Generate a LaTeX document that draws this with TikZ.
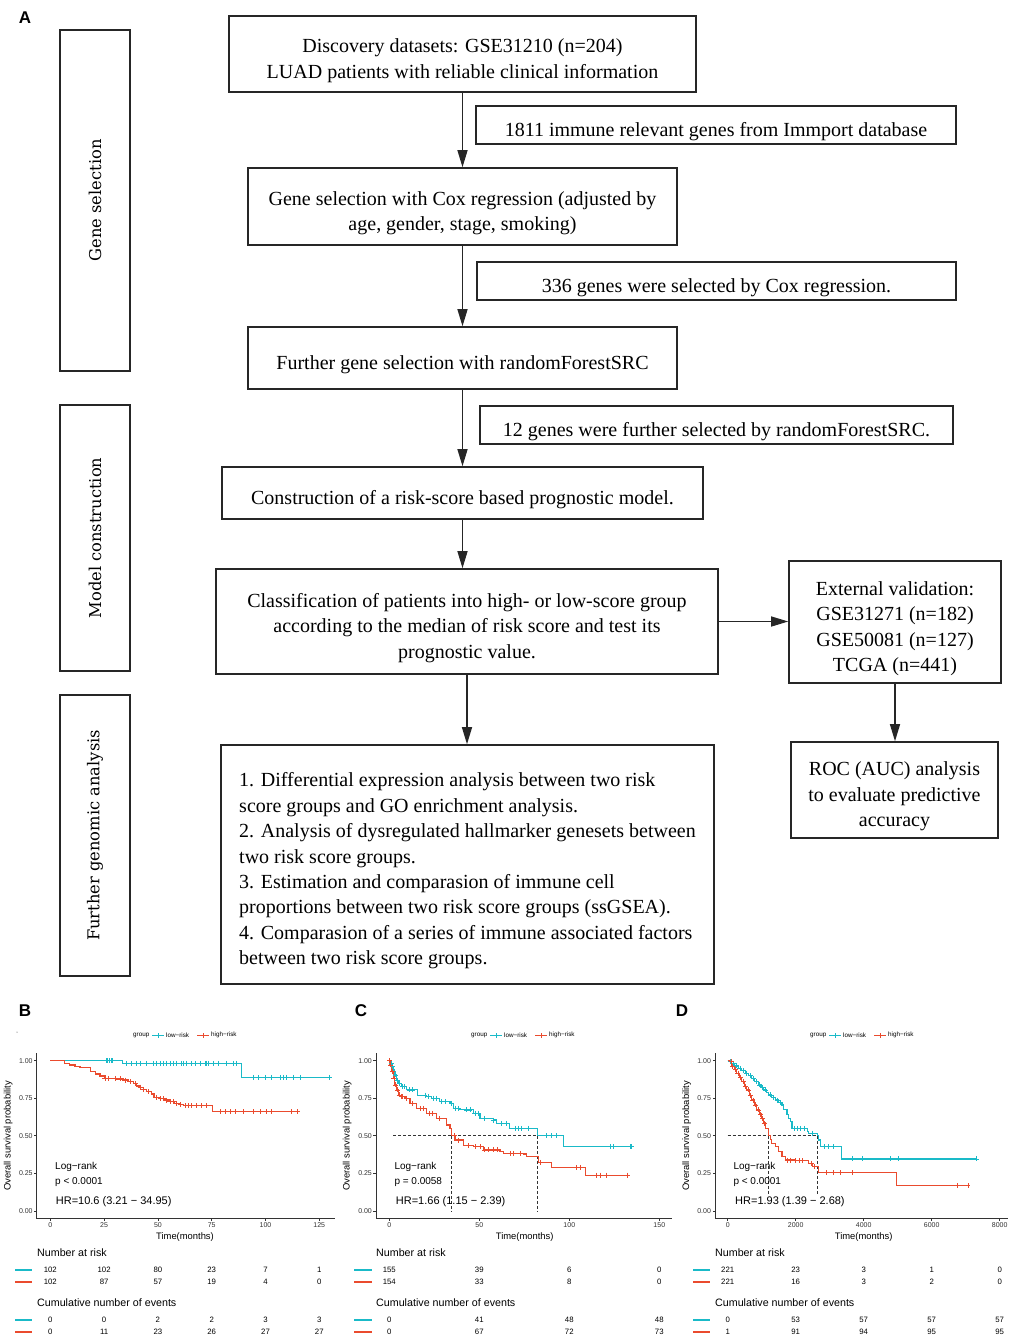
\documentclass[tikz,border=0pt]{standalone}
\usepackage{fontspec}
\newfontfamily\boxfont{Liberation Serif}
\newfontfamily\phasefont{DejaVu Serif}
\setsansfont{Liberation Sans}
\usetikzlibrary{arrows.meta,positioning}

\definecolor{kmred}{RGB}{234,75,46}
\definecolor{kmcyan}{RGB}{26,186,200}
\definecolor{kmgrey}{RGB}{51,51,51}

\newcommand{\topstrut}{\rule{0pt}{27pt}}

\tikzset{
  flowbox/.style={draw=black!85, line width=1.6pt, align=center, inner sep=0pt,
    font=\boxfont\fontsize{20}{25.4}\selectfont},
  phasebox/.style={draw=black!85, line width=1.6pt, rotate=90, minimum height=70pt,
    font=\phasefont\fontsize{16.3}{20}\selectfont},
  flowarrow/.style={draw=black!85, line width=1.3pt, -{Triangle[width=10pt,length=17pt]}},
  panellab/.style={font=\sffamily\bfseries\fontsize{17}{17}\selectfont, inner sep=0pt},
  kmaxis/.style={kmgrey, line width=0.8pt},
  kmline/.style={line width=1.1pt},
  censor/.style={line width=0.7pt, mark size=2.5pt},
  median/.style={kmgrey, line width=0.7pt, dash pattern=on 3pt off 2pt},
  ticklab/.style={font=\sffamily\fontsize{7}{8}\selectfont, text=kmgrey, inner sep=1.2pt},
  axtitle/.style={font=\sffamily\fontsize{9.4}{10}\selectfont, inner sep=0pt},
  legtxt/.style={font=\sffamily\fontsize{6.3}{7}\selectfont, inner sep=0pt, anchor=west},
  stattxt/.style={font=\sffamily\fontsize{10}{11}\selectfont, anchor=west, inner sep=0pt},
  hrtxt/.style={font=\sffamily\fontsize{11}{12}\selectfont, anchor=west, inner sep=0pt},
  tabtitle/.style={font=\sffamily\fontsize{10.7}{12}\selectfont, anchor=west, inner sep=0pt},
  tabnum/.style={font=\sffamily\fontsize{7.8}{9}\selectfont, inner sep=0pt},
  tabkey/.style={line width=2.6pt}
}

% legend row above each survival plot: #1 name, #2 x, #3 y
\newcommand{\kmlegend}[3]{%
  \node[legtxt] (#1grp) at (#2,#3) {group};
  \draw[kmcyan, line width=0.9pt] (#2+19,#3) -- (#2+31,#3);
  \draw[kmcyan, line width=0.7pt] (#2+25,#3) +(-2.5pt,0) -- +(2.5pt,0) +(0,-2.5pt) -- +(0,2.5pt);
  \node[legtxt] (#1low) at (#2+33,#3) {low−risk};
  \draw[kmred, line width=0.9pt] (#2+64,#3) -- (#2+76,#3);
  \draw[kmred, line width=0.7pt] (#2+70,#3) +(-2.5pt,0) -- +(2.5pt,0) +(0,-2.5pt) -- +(0,2.5pt);
  \node[legtxt] (#1high) at (#2+78,#3) {high−risk};
}

\begin{document}
\begin{tikzpicture}[x=1pt, y=-1pt]
\useasboundingbox (0,0) rectangle (1015,1339);
\fill[white] (0,0) rectangle (1015,1339);

%% ---------------- panel A: flow chart ----------------
\node[panellab] (labA) at (25,18) {A};

\node[phasebox, minimum width=341pt] (genesel) at (95,200.5) {Gene selection};
\node[phasebox, minimum width=266pt] (modelcon) at (95,538) {Model construction};
\node[phasebox, minimum width=281pt] (genomic) at (95,835.5) {Further genomic analysis};

\node[flowbox, minimum width=467pt, minimum height=76pt] (disc) at (462.5,54)
  {\topstrut Discovery datasets: GSE31210 (n=204)\\LUAD patients with reliable clinical information};
\node[flowbox, minimum width=480pt, minimum height=38pt] (immport) at (716,125)
  {\topstrut 1811 immune relevant genes from Immport database};
\node[flowbox, minimum width=429pt, minimum height=77pt] (coxsel) at (462.5,206.5)
  {\topstrut Gene selection with Cox regression (adjusted by\\age, gender, stage, smoking)};
\node[flowbox, minimum width=479pt, minimum height=38pt] (coxres) at (716.5,281)
  {\topstrut 336 genes were selected by Cox regression.};
\node[flowbox, minimum width=429pt, minimum height=62pt] (rfsel) at (462.5,358)
  {\topstrut Further gene selection with randomForestSRC};
\node[flowbox, minimum width=473pt, minimum height=38pt] (rfres) at (716.5,425)
  {\topstrut 12 genes were further selected by randomForestSRC.};
\node[flowbox, minimum width=481pt, minimum height=52pt] (model) at (462.5,493)
  {\topstrut Construction of a risk-score based prognostic model.};
\node[flowbox, minimum width=502pt, minimum height=105pt] (classify) at (467,621.5)
  {\topstrut Classification of patients into high- or low-score group\\according to the median of risk score and test its\\prognostic value.};
\node[flowbox, minimum width=212pt, minimum height=122pt] (extval) at (895,622)
  {\topstrut External validation:\\GSE31271 (n=182)\\GSE50081 (n=127)\\TCGA (n=441)};
\node[flowbox, minimum width=493pt, minimum height=239pt, align=left] (further) at (467.5,864.5)
  {\topstrut 1. Differential expression analysis between two risk\\
   score groups and GO enrichment analysis.\\
   2. Analysis of dysregulated hallmarker genesets between\\
   two risk score groups.\\
   3. Estimation and comparasion of immune cell\\
   proportions between two risk score groups (ssGSEA).\\
   4. Comparasion of a series of immune associated factors\\
   between two risk score groups.};
\node[flowbox, minimum width=207pt, minimum height=96pt] (roc) at (894.5,790)
  {\topstrut ROC (AUC) analysis\\to evaluate predictive\\accuracy};

\draw[flowarrow] (disc) -- (coxsel);
\draw[flowarrow] (coxsel) -- (rfsel);
\draw[flowarrow] (rfsel) -- (model);
\draw[flowarrow] (model) -- (model.south |- classify.north);
\draw[flowarrow] (classify) -- (classify.south |- further.north);
\draw[flowarrow] (classify.east) -- (classify.east -| extval.west);
\draw[flowarrow] (extval) -- (extval.south |- roc.north);

%% ---------------- panel B ----------------
\node[panellab] (labB) at (25,1011) {B};
\fill[kmgrey] (17,1032) circle (0.5pt);
\kmlegend{legB}{133}{1035}
\node[axtitle, rotate=90] (ylabB) at (8.3,1136) {Overall survival probability};
\node[axtitle] (xlabB) at (185,1237) {Time(months)};

\begin{scope}[shift={(50.3,1211)}, x=2.152pt, y=150.4pt]
  \draw[kmaxis] (-6.3,1.05) -- (-6.3,-0.048) -- (132.3,-0.048);
  \foreach \p/\lab in {0/0.00, 0.25/0.25, 0.5/0.50, 0.75/0.75, 1/1.00}
    \draw[kmaxis] (-6.3,\p) -- ++(-2.5pt,0) node[ticklab, anchor=east] {\lab};
  \foreach \tm in {0,25,...,125}
    \draw[kmaxis] (\tm,-0.048) -- ++(0,-2.5pt) node[ticklab, anchor=north] {\tm};
  \draw[kmcyan, kmline] plot[const plot] coordinates {(0,1) (33.6,0.982) (88.9,0.889) (129.6,0.889)};
  \draw[kmred, kmline] plot[const plot] coordinates {(0,1) (6.8,0.982) (9.1,0.971) (11.5,0.96)
    (13.8,0.953) (18.7,0.927) (20.8,0.911) (23.1,0.898) (25.4,0.882) (30.8,0.878) (33.9,0.871)
    (36.2,0.86) (38.6,0.849) (40.1,0.831) (41.7,0.823) (43.2,0.809) (44.8,0.794) (47.1,0.778)
    (48.2,0.756) (51,0.747) (53.3,0.738) (55.6,0.727) (57.9,0.716) (60.3,0.707) (62.1,0.70)
    (75.3,0.661) (114.9,0.661)};
  \draw[kmcyan, censor] plot[only marks, mark=+] coordinates {(25.9,1) (26.5,1) (27.4,1) (28.2,1)
    (29,1) (35.5,0.982) (37.8,0.982) (40.1,0.982) (41.7,0.982) (44.8,0.982) (47.9,0.982)
    (49.4,0.982) (51,0.982) (52.5,0.982) (54.1,0.982) (55.6,0.982) (57.2,0.982) (58.7,0.982)
    (61,0.982) (61.8,0.982) (63.4,0.982) (65.7,0.982) (67.2,0.982) (69.5,0.982) (71.9,0.982)
    (72.6,0.982) (73.4,0.982) (75.7,0.982) (78.1,0.982) (81.9,0.982) (85,0.982) (86.6,0.982)
    (94.3,0.889) (96.7,0.889) (99.8,0.889) (102.9,0.889) (106.7,0.889) (108.3,0.889)
    (109.8,0.889) (112.9,0.889) (116,0.889) (129.6,0.889)};
  \draw[kmred, censor] plot[only marks, mark=+] coordinates {(25.4,0.882) (27,0.882) (30,0.882)
    (32.4,0.878) (34.7,0.871) (37,0.86) (39.5,0.849) (41.7,0.823) (43.2,0.809) (45.5,0.794)
    (49.4,0.756) (51,0.747) (52.5,0.747) (54.1,0.738) (55.6,0.727) (57.2,0.727) (58.7,0.716)
    (60.3,0.707) (62.6,0.70) (64.1,0.70) (65.7,0.70) (68,0.70) (70.3,0.70) (72.6,0.70)
    (78.8,0.661) (81.2,0.661) (83.5,0.661) (85.8,0.661) (89.7,0.661) (94.3,0.661) (97.4,0.661)
    (100.5,0.661) (102.9,0.661) (112.1,0.661) (114.9,0.661)};
\end{scope}

\node[stattxt] (lrB) at (55,1167) {Log−rank};
\node[stattxt] (pB) at (55,1182) {p < 0.0001};
\node[hrtxt] (hrB) at (55.7,1202) {HR=10.6 (3.21 − 34.95)};

\node[tabtitle] (riskB) at (37,1253) {Number at risk};
\node[tabtitle] (eventB) at (37,1303) {Cumulative number of events};
\foreach \yy/\cc in {1270/kmcyan, 1282/kmred, 1320/kmcyan, 1332/kmred}
  \draw[\cc, tabkey] (15,\yy) -- (32,\yy);
\begin{scope}[shift={(50.3,0)}, x=2.152pt]
  \foreach \tm/\a/\b/\c/\d in {0/102/102/0/0, 25/102/87/0/11, 50/80/57/2/23,
      75/23/19/2/26, 100/7/4/3/27, 125/1/0/3/27} {
    \node[tabnum] at (\tm,1270) {\a};
    \node[tabnum] at (\tm,1282) {\b};
    \node[tabnum] at (\tm,1320) {\c};
    \node[tabnum] at (\tm,1332) {\d};
  }
\end{scope}

%% ---------------- panel C ----------------
\node[panellab] (labC) at (361,1011) {C};
\kmlegend{legC}{471}{1035}
\node[axtitle, rotate=90] (ylabC) at (347.3,1136) {Overall survival probability};
\node[axtitle] (xlabC) at (524.7,1237) {Time(months)};

\begin{scope}[shift={(389.3,1211)}, x=1.8pt, y=150.4pt]
  \draw[kmaxis] (-7.4,1.05) -- (-7.4,-0.048) -- (156.9,-0.048);
  \foreach \p/\lab in {0/0.00, 0.25/0.25, 0.5/0.50, 0.75/0.75, 1/1.00}
    \draw[kmaxis] (-7.4,\p) -- ++(-2.5pt,0) node[ticklab, anchor=east] {\lab};
  \foreach \tm in {0,50,100,150}
    \draw[kmaxis] (\tm,-0.048) -- ++(0,-2.5pt) node[ticklab, anchor=north] {\tm};
  \draw[median] (2.2,0.5) -- (82.2,0.5);
  \draw[median] (34.6,0.5) -- (34.6,0);
  \draw[median] (82.2,0.5) -- (82.2,0);
  \draw[kmcyan, kmline] plot[const plot] coordinates {(0,1) (0.6,0.98) (1.3,0.96) (2.2,0.93)
    (3.1,0.905) (4.1,0.87) (5,0.85) (6.9,0.827) (9.6,0.805) (15.6,0.77) (20.7,0.76) (23.5,0.75)
    (28.1,0.727) (33.7,0.716) (35.6,0.683) (39.3,0.672) (46.7,0.65) (50.4,0.616) (57.8,0.605)
    (59.6,0.583) (67,0.55) (82.2,0.5) (97,0.428) (134.6,0.428)};
  \draw[kmred, kmline] plot[const plot] coordinates {(0,1) (0.4,0.971) (1.3,0.927) (2.2,0.882)
    (3.1,0.838) (4.1,0.805) (5,0.772) (5.9,0.76) (8.7,0.749) (11.5,0.716) (15.2,0.683)
    (20.7,0.65) (26.3,0.616) (31.9,0.572) (33.7,0.55) (34.6,0.5) (36.5,0.472) (41.1,0.435)
    (46.7,0.428) (52.2,0.406) (61.5,0.395) (63.3,0.384) (74.4,0.379) (76.3,0.361) (82.8,0.324)
    (90,0.288) (109.1,0.239) (132.2,0.239)};
  \draw[kmcyan, censor] plot[only marks, mark=+] coordinates {(0.3,1) (1,0.98) (1.7,0.96)
    (2.6,0.93) (3.5,0.905) (4.5,0.87) (5.8,0.85) (7.5,0.827) (8.5,0.827) (11,0.805) (13,0.805)
    (19.8,0.77) (21.5,0.76) (24.4,0.75) (26.3,0.75) (29,0.727) (31,0.727) (34.5,0.716)
    (36.5,0.683) (38.3,0.683) (43,0.672) (44.8,0.672) (47.6,0.65) (49.4,0.65) (53,0.616)
    (57.8,0.605) (62.4,0.583) (65.2,0.583) (69.8,0.55) (71.7,0.55) (73.5,0.55) (77.2,0.55)
    (87.4,0.5) (90.2,0.5) (92.6,0.5) (122.6,0.428) (124.4,0.428) (133.7,0.428) (134.6,0.428)};
  \draw[kmred, censor] plot[only marks, mark=+] coordinates {(0.2,1) (0.8,0.971) (1.7,0.927)
    (2.6,0.882) (3.5,0.838) (4.5,0.805) (5.5,0.772) (6.5,0.76) (7.5,0.76) (9.5,0.749)
    (13,0.716) (17,0.683) (19,0.683) (22,0.65) (24,0.65) (28,0.616) (36,0.5) (38.5,0.472)
    (44,0.435) (48,0.428) (50.4,0.428) (53,0.406) (55,0.406) (58,0.406) (60,0.406) (67,0.384)
    (69,0.384) (72.6,0.384) (84,0.324) (104,0.288) (106,0.288) (115.2,0.239) (117,0.239)
    (120.7,0.239) (132.2,0.239)};
\end{scope}

\node[stattxt] (lrC) at (394.3,1167) {Log−rank};
\node[stattxt] (pC) at (394.3,1182) {p = 0.0058};
\node[hrtxt] (hrC) at (395.7,1202) {HR=1.66 (1.15 − 2.39)};

\node[tabtitle] (riskC) at (376,1253) {Number at risk};
\node[tabtitle] (eventC) at (376,1303) {Cumulative number of events};
\foreach \yy/\cc in {1270/kmcyan, 1282/kmred, 1320/kmcyan, 1332/kmred}
  \draw[\cc, tabkey] (354,\yy) -- (372,\yy);
\begin{scope}[shift={(389.3,0)}, x=1.8pt]
  \foreach \tm/\a/\b/\c/\d in {0/155/154/0/0, 50/39/33/41/67, 100/6/8/48/72, 150/0/0/48/73} {
    \node[tabnum] at (\tm,1270) {\a};
    \node[tabnum] at (\tm,1282) {\b};
    \node[tabnum] at (\tm,1320) {\c};
    \node[tabnum] at (\tm,1332) {\d};
  }
\end{scope}

%% ---------------- panel D ----------------
\node[panellab] (labD) at (682,1011) {D};
\kmlegend{legD}{810}{1035}
\node[axtitle, rotate=90] (ylabD) at (686.7,1136) {Overall survival probability};
\node[axtitle] (xlabD) at (863.7,1237) {Time(months)};

\begin{scope}[shift={(727.7,1211)}, x=34pt, y=150.4pt]
  \draw[kmaxis] (-0.373,1.05) -- (-0.373,-0.048) -- (8.235,-0.048);
  \foreach \p/\lab in {0/0.00, 0.25/0.25, 0.5/0.50, 0.75/0.75, 1/1.00}
    \draw[kmaxis] (-0.373,\p) -- ++(-2.5pt,0) node[ticklab, anchor=east] {\lab};
  \foreach \tm/\lab in {0/0, 2/2000, 4/4000, 6/6000, 8/8000}
    \draw[kmaxis] (\tm,-0.048) -- ++(0,-2.5pt) node[ticklab, anchor=north] {\lab};
  \draw[median] (0,0.5) -- (2.631,0.5);
  \draw[median] (1.202,0.5) -- (1.202,0.11);
  \draw[median] (2.631,0.5) -- (2.631,0.11);
  \draw[kmcyan, kmline] plot[const plot] coordinates {(0,1) (0.05,0.993) (0.118,0.982)
    (0.2,0.965) (0.315,0.949) (0.41,0.932) (0.512,0.916) (0.61,0.9) (0.709,0.882) (0.8,0.86)
    (0.906,0.838) (0.98,0.822) (1.054,0.805) (1.13,0.79) (1.202,0.772) (1.3,0.755) (1.399,0.738)
    (1.5,0.72) (1.596,0.705) (1.645,0.672) (1.744,0.639) (1.8,0.615) (1.842,0.594) (1.892,0.55)
    (2.335,0.528) (2.384,0.516) (2.631,0.5) (2.68,0.472) (2.729,0.428) (3.35,0.346) (7.31,0.346)};
  \draw[kmred, kmline] plot[const plot] coordinates {(0,1) (0.05,0.993) (0.118,0.96) (0.19,0.94)
    (0.266,0.916) (0.34,0.89) (0.414,0.86) (0.49,0.83) (0.562,0.805) (0.64,0.77) (0.709,0.738)
    (0.78,0.705) (0.857,0.672) (0.93,0.645) (1.005,0.616) (1.06,0.585) (1.123,0.55) (1.202,0.5)
    (1.25,0.475) (1.3,0.45) (1.399,0.428) (1.5,0.395) (1.596,0.361) (1.695,0.339) (1.99,0.335)
    (2.384,0.317) (2.5,0.295) (2.68,0.255) (4.966,0.168) (7.064,0.168)};
  \draw[kmcyan, censor] plot[only marks, mark=+] coordinates {(0.08,0.993) (0.16,0.982)
    (0.26,0.965) (0.36,0.949) (0.46,0.932) (0.56,0.916) (0.66,0.9) (0.75,0.882) (0.85,0.86)
    (0.94,0.838) (1.02,0.822) (1.1,0.805) (1.25,0.772) (1.35,0.755) (1.45,0.738) (1.55,0.72)
    (1.95,0.55) (2.05,0.55) (2.15,0.55) (2.25,0.55) (2.5,0.516) (2.85,0.428) (2.95,0.428)
    (3.1,0.428) (3.66,0.346) (3.95,0.346) (4.78,0.346) (5.02,0.346) (7.31,0.346)};
  \draw[kmred, censor] plot[only marks, mark=+] coordinates {(0.1,0.993) (0.15,0.96) (0.23,0.94)
    (0.3,0.916) (0.38,0.89) (0.45,0.86) (0.52,0.83) (0.6,0.805) (0.67,0.77) (0.74,0.738)
    (0.82,0.705) (0.9,0.672) (0.97,0.645) (1.03,0.616) (1.09,0.585) (1.75,0.339) (1.85,0.339)
    (2.0,0.335) (2.1,0.335) (2.2,0.335) (2.45,0.317) (2.55,0.295) (2.9,0.255) (3.1,0.255)
    (3.3,0.255) (3.66,0.255) (6.76,0.168) (7.064,0.168)};
\end{scope}

\node[stattxt] (lrD) at (733.3,1167) {Log−rank};
\node[stattxt] (pD) at (733.3,1182) {p < 0.0001};
\node[hrtxt] (hrD) at (735,1202) {HR=1.93 (1.39 − 2.68)};

\node[tabtitle] (riskD) at (715,1253) {Number at risk};
\node[tabtitle] (eventD) at (715,1303) {Cumulative number of events};
\foreach \yy/\cc in {1270/kmcyan, 1282/kmred, 1320/kmcyan, 1332/kmred}
  \draw[\cc, tabkey] (693,\yy) -- (710,\yy);
\begin{scope}[shift={(727.7,0)}, x=34pt]
  \foreach \tm/\a/\b/\c/\d in {0/221/221/0/1, 2/23/16/53/91, 4/3/3/57/94, 6/1/2/57/95, 8/0/0/57/95} {
    \node[tabnum] at (\tm,1270) {\a};
    \node[tabnum] at (\tm,1282) {\b};
    \node[tabnum] at (\tm,1320) {\c};
    \node[tabnum] at (\tm,1332) {\d};
  }
\end{scope}

\end{tikzpicture}
\end{document}
